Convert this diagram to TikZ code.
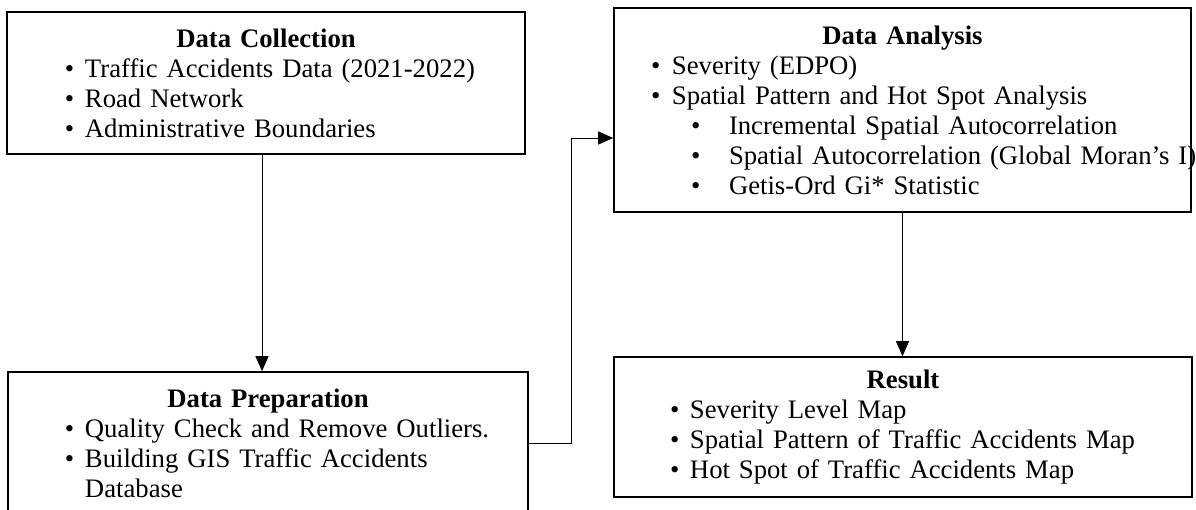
\documentclass[tikz,border=0pt]{standalone}
\usepackage{fontspec}
\setmainfont{Liberation Serif}
\usetikzlibrary{arrows.meta}
\setlength{\parindent}{0pt}
\newcommand{\stagetitle}[1]{\makebox[\hsize]{\bfseries #1}}
\newcommand{\stageitem}[3]{\hspace*{#1}\makebox[#2][l]{\textbullet}\mbox{#3}}
\tikzset{
  stage/.style={draw, rectangle, line width=1.6pt, inner xsep=0pt, inner ysep=0pt,
    align=left, font=\fontsize{26.7}{30}\selectfont},
  flow/.style={line width=1pt, -{Triangle[length=15pt,width=13pt]}}
}
\begin{document}
\begin{tikzpicture}[x=1pt,y=-1pt]
    \useasboundingbox (0,0) rectangle (1196,509);
    \node[stage, text width=518pt, minimum height=142pt] (collect) at (266,83) {%
        \stagetitle{Data Collection}\\
        \stageitem{58pt}{20pt}{Traffic Accidents Data (2021-2022)}\\
        \stageitem{58pt}{20pt}{Road Network}\\
        \stageitem{58pt}{20pt}{Administrative Boundaries}};
    \node[stage, text width=577pt, minimum height=204pt] (analysis) at (902.5,110) {%
        \stagetitle{Data Analysis}\\
        \stageitem{37pt}{21pt}{Severity (EDPO)}\\
        \stageitem{37pt}{21pt}{Spatial Pattern and Hot Spot Analysis}\\
        \stageitem{77pt}{38pt}{Incremental Spatial Autocorrelation}\\
        \stageitem{77pt}{38pt}{Spatial Autocorrelation (Global Moran's I)}\\
        \stageitem{77pt}{38pt}{Getis-Ord Gi* Statistic}};
    \node[stage, text width=520pt, minimum height=142pt] (prep) at (268,443) {%
        \stagetitle{Data Preparation}\\
        \stageitem{57pt}{20pt}{Quality Check and Remove Outliers.}\\
        \stageitem{57pt}{20pt}{Building GIS Traffic Accidents}\\
        \hspace*{77pt}Database};
    \node[stage, text width=578pt, minimum height=140pt] (result) at (903,427) {%
        \stagetitle{Result}\\
        \stageitem{56pt}{20pt}{Severity Level Map}\\
        \stageitem{56pt}{20pt}{Spatial Pattern of Traffic Accidents Map}\\
        \stageitem{56pt}{20pt}{Hot Spot of Traffic Accidents Map}};

    \coordinate (drop) at ([xshift=-4pt]collect.south);
    \draw[flow] (drop) -- (drop |- prep.north);
    \draw[flow] (prep.east) -- ++(43,0) |- ([yshift=-28pt]analysis.west);
    \draw[flow] (analysis.south) -- (analysis.south |- result.north);
\end{tikzpicture}
\end{document}
